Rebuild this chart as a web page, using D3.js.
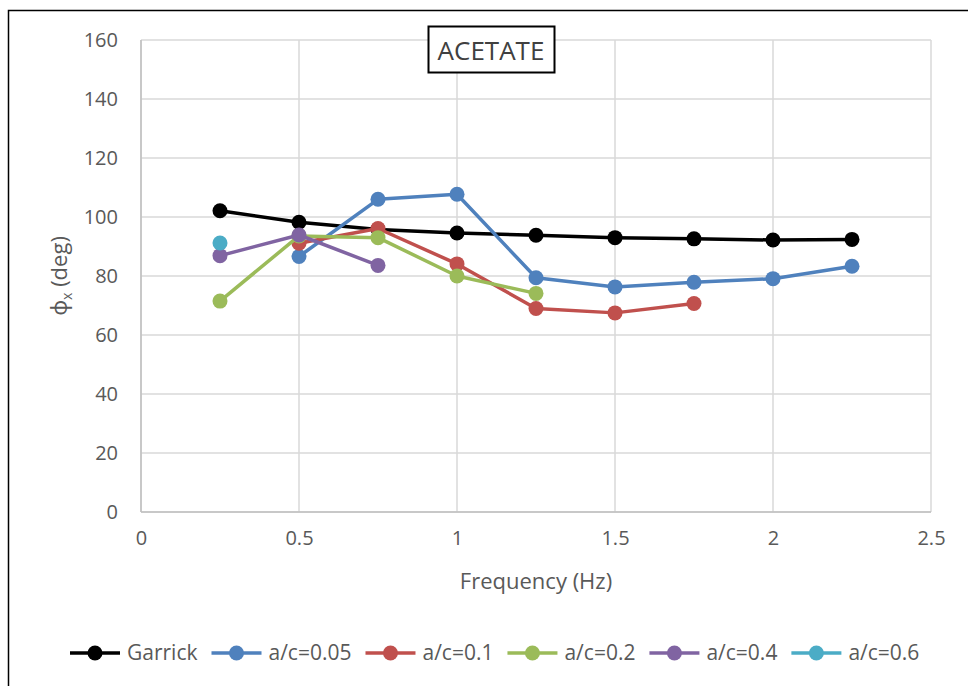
<!DOCTYPE html>
<html>
<head>
<meta charset="utf-8">
<script src="https://cdn.jsdelivr.net/npm/d3@7/dist/d3.min.js"></script>
<style>
  html, body { margin: 0; padding: 0; background: #fff; }
  svg { display: block; }
  text { font-family: "Open Sans", "Noto Sans", sans-serif; }
</style>
</head>
<body>
<svg id="chart" width="968" height="686"></svg>
<script>
// Phase angle of the x-response for acetate specimens vs. excitation frequency
const frequency = [0.25, 0.5, 0.75, 1.0, 1.25, 1.5, 1.75, 2.0, 2.25];
const garrick  = [102.1, 98.2, 95.8, 94.6, 93.8, 93.0, 92.6, 92.2, 92.4];
const ac005    = [null, 86.6, 106.0, 107.7, 79.4, 76.3, 77.9, 79.1, 83.3];
const ac01     = [null, 91.1, 96.1, 84.1, 69.0, 67.5, 70.7, null, null];
const ac02     = [71.5, 93.6, 93.0, 80.0, 74.1, null, null, null, null];
const ac04     = [86.9, 93.9, 83.6, null, null, null, null, null, null];
const ac06     = [91.2, null, null, null, null, null, null, null, null];

const seriesNames  = ["Garrick", "a/c=0.05", "a/c=0.1", "a/c=0.2", "a/c=0.4", "a/c=0.6"];
const seriesValues = [garrick, ac005, ac01, ac02, ac04, ac06];
const seriesColors = ["#000000", "#4F81BD", "#C0504D", "#9BBB59", "#8064A2", "#4BACC6"];

const xTicks = [0, 0.5, 1, 1.5, 2, 2.5];
const yTicks = [0, 20, 40, 60, 80, 100, 120, 140, 160];
const chartTitle = "ACETATE";
const xTitle = "Frequency (Hz)";

const FONT = '"Open Sans", "Noto Sans", sans-serif';
const svg = d3.select("#chart");
const plot = { left: 141, right: 931, top: 40, bottom: 512 };

const x = d3.scaleLinear().domain([0, 2.5]).range([plot.left, plot.right]);
const y = d3.scaleLinear().domain([0, 160]).range([plot.bottom, plot.top]);

// outer chart frame
svg.append("rect")
  .attr("x", 8.5).attr("y", 10.5).attr("width", 990).attr("height", 700)
  .attr("fill", "none").attr("stroke", "#000").attr("stroke-width", 1.5);

// gridlines
const grid = svg.append("g");
grid.selectAll("line.h").data(yTicks).join("line")
  .attr("x1", plot.left).attr("x2", plot.right)
  .attr("y1", d => y(d)).attr("y2", d => y(d))
  .attr("stroke", "#d9d9d9").attr("stroke-width", 1.5);
grid.selectAll("line.v").data(xTicks).join("line")
  .attr("y1", plot.top).attr("y2", plot.bottom)
  .attr("x1", d => x(d)).attr("x2", d => x(d))
  .attr("stroke", "#d9d9d9").attr("stroke-width", 1.5);

// axis lines
svg.append("line").attr("x1", plot.left).attr("x2", plot.left)
  .attr("y1", plot.top).attr("y2", plot.bottom)
  .attr("stroke", "#bfbfbf").attr("stroke-width", 1.5);
svg.append("line").attr("x1", plot.left).attr("x2", plot.right)
  .attr("y1", plot.bottom).attr("y2", plot.bottom)
  .attr("stroke", "#bfbfbf").attr("stroke-width", 1.5);

// tick labels via d3 axes (no tick marks / domain)
const yAxis = svg.append("g").attr("transform", `translate(${plot.left},0)`)
  .call(d3.axisLeft(y).tickValues(yTicks).tickSize(0).tickPadding(23));
const xAxis = svg.append("g").attr("transform", `translate(0,${plot.bottom})`)
  .call(d3.axisBottom(x).tickValues(xTicks).tickSize(0).tickPadding(19).tickFormat(d3.format("")));
[yAxis, xAxis].forEach(a => {
  a.select(".domain").remove();
  a.selectAll("text").attr("font-size", 20).attr("fill", "#595959")
    .style("font-family", FONT);
});

// axis titles
svg.append("text").attr("x", 536).attr("y", 589)
  .attr("text-anchor", "middle").attr("font-size", 22).attr("fill", "#595959")
  .text(xTitle);
const yt = svg.append("text")
  .attr("transform", "translate(67,276) rotate(-90)")
  .attr("text-anchor", "middle").attr("font-size", 22).attr("fill", "#595959");
yt.append("tspan").text("ϕ");
yt.append("tspan").attr("font-size", 14).attr("dy", 5).text("x");
yt.append("tspan").attr("dy", -5).text(" (deg)");

// series lines and markers
const line = d3.line()
  .defined(d => d.v !== null)
  .x(d => x(d.f)).y(d => y(d.v));

seriesValues.forEach((vals, i) => {
  const pts = frequency.map((f, j) => ({ f, v: vals[j] }));
  const g = svg.append("g");
  g.append("path").datum(pts).attr("d", line)
    .attr("fill", "none").attr("stroke", seriesColors[i])
    .attr("stroke-width", 3.5).attr("stroke-linejoin", "round");
  g.selectAll("circle").data(pts.filter(d => d.v !== null)).join("circle")
    .attr("cx", d => x(d.f)).attr("cy", d => y(d.v)).attr("r", 7.5)
    .attr("fill", seriesColors[i]);
});

// title box
const title = svg.append("g");
title.append("rect")
  .attr("x", 428.5).attr("y", 26.5).attr("width", 126).attr("height", 46)
  .attr("fill", "#fff").attr("stroke", "#000").attr("stroke-width", 2);
title.append("text").attr("x", 491).attr("y", 60)
  .attr("text-anchor", "middle").attr("font-size", 26).attr("fill", "#404040")
  .text(chartTitle);

// legend
const legend = svg.append("g");
let lx = 70;
const ly = 653;
seriesNames.forEach((name, i) => {
  const g = legend.append("g");
  g.append("line").attr("x1", lx).attr("x2", lx + 50).attr("y1", ly).attr("y2", ly)
    .attr("stroke", seriesColors[i]).attr("stroke-width", 3.5);
  g.append("circle").attr("cx", lx + 25).attr("cy", ly).attr("r", 7.5).attr("fill", seriesColors[i]);
  const t = g.append("text").attr("x", lx + 57).attr("y", ly + 7)
    .attr("font-size", 21).attr("fill", "#595959").text(name);
  const w = t.node().getComputedTextLength();
  lx += 57 + w + 14;
});
</script>
</body>
</html>
